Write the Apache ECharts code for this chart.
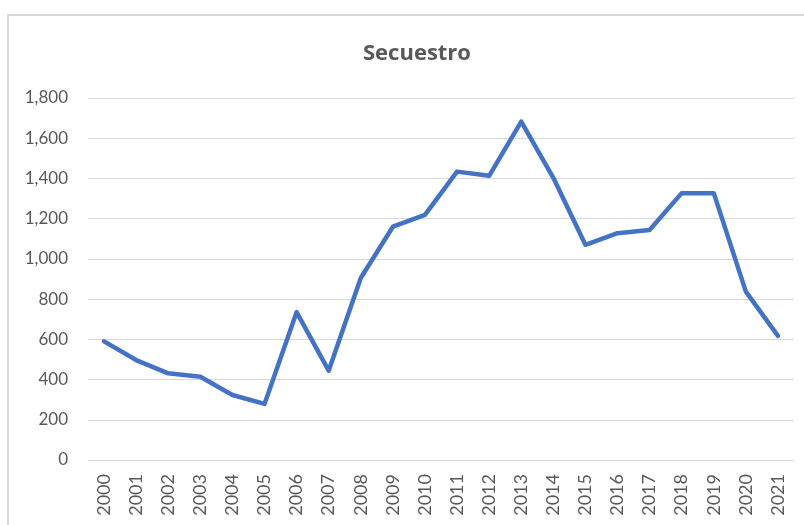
<!DOCTYPE html>
<html>
<head>
<meta charset="utf-8">
<script src="https://cdn.jsdelivr.net/npm/echarts@6/dist/echarts.min.js"></script>
<style>
	html,body{margin:0;padding:0;background:#fff;}
	#chart{width:804px;height:525px;}
</style>
</head>
<body>
<div id="chart"></div>
<script>
const years=['2000','2001','2002','2003','2004','2005','2006','2007','2008','2009','2010',
	'2011','2012','2013','2014','2015','2016','2017','2018','2019','2020','2021'];
const secuestro=[590,497,431,414,323,279,735,444,905,1160,1219,
	1434,1413,1683,1403,1070,1128,1144,1327,1327,837,617];
const yTicks={min:0,max:1800,step:200};

let myChart=echarts.init(document.getElementById('chart'));
let txt='#595959';
let option={
	animation:false,
	title:{
		text:'Secuestro',
		left:358,
		top:38,
		textStyle:{fontFamily:'Open Sans',fontWeight:'bold',fontSize:22,color:txt}
	},
	graphic:[{
		type:'rect',
		shape:{x:8,y:15,width:820,height:540},
		style:{fill:'none',stroke:'#d9d9d9',lineWidth:2},
		silent:true
	}],
	grid:{left:88,right:10,top:98,bottom:65},
	xAxis:{
		type:'category',
		data:years,
		boundaryGap:true,
		axisLine:{show:true,lineStyle:{color:'#d9d9d9',width:1}},
		axisTick:{show:false},
		axisLabel:{rotate:90,color:txt,fontFamily:'Lato',fontSize:18,margin:14}
	},
	yAxis:{
		type:'value',
		min:yTicks.min,
		max:yTicks.max,
		interval:yTicks.step,
		axisLine:{show:false},
		axisTick:{show:false},
		splitLine:{lineStyle:{color:'#d9d9d9',width:1}},
		axisLabel:{
			color:txt,fontFamily:'Lato',fontSize:17,margin:20,
			formatter:(v)=>v.toLocaleString('en-US')
		}
	},
	series:[{
		name:'Secuestro',
		type:'line',
		data:secuestro,
		symbol:'none',
		lineStyle:{color:'#4472c4',width:4.5,join:'round',cap:'round'}
	}]
};
myChart.setOption(option,true);
</script>
</body>
</html>
